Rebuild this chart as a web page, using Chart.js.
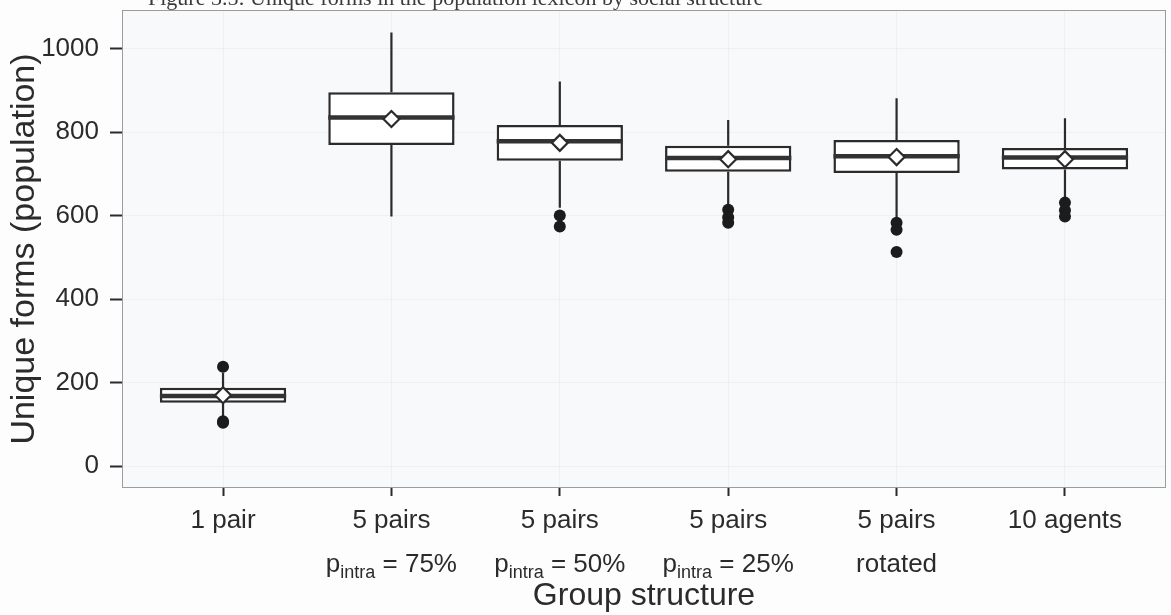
<!DOCTYPE html>
<html>
<head>
<meta charset="utf-8">
<title>Unique forms by group structure</title>
<script src="https://cdn.jsdelivr.net/npm/chart.js@4.4.1/dist/chart.umd.min.js"></script>
<style>
    html, body { margin: 0; padding: 0; background: #fdfdfd; }
    #wrap { width: 1171px; height: 615px; }
</style>
</head>
<body>
<div id="wrap"><canvas id="myChart" width="1171" height="615"></canvas></div>
<script>
// donnees (boxplot par structure de groupe)
const categories = ['1 pair', '5 pairs', '5 pairs', '5 pairs', '5 pairs', '10 agents'];
const subLabels = ['', 'p_intra = 75%', 'p_intra = 50%', 'p_intra = 25%', 'rotated', ''];
const whiskerLow = [116, 598, 619, 624, 595, 640];
const q1 = [152, 769, 731, 705, 702, 710];
const median = [168, 835, 778, 738, 742, 739];
const q3 = [188, 895, 817, 767, 781, 762];
const whiskerHigh = [224, 1038, 921, 829, 881, 833];
const means = [170, 831, 774, 735, 740, 735];
const outliers = [[238, 108, 104], [], [600, 574], [614, 596, 583], [583, 566, 513], [631, 613, 598]];
const yTicks = [0, 200, 400, 600, 800, 1000];
const figTitle = 'Figure 3.5: Unique forms in the population lexicon by social structure';

const ink = '#2b2b2b';
const boxWidth = 0.75;
const sans = '"Liberation Sans", Arial, sans-serif';

// jeux de donnees construits a partir des tableaux
const boxData = categories.map((c, i) => ({x: i, y: [q1[i], q3[i]]}));

const whiskerData = [];
categories.forEach((c, i) => {
    whiskerData.push({x: i, y: whiskerLow[i]}, {x: i, y: q1[i]}, {x: i, y: null});
    whiskerData.push({x: i, y: q3[i]}, {x: i, y: whiskerHigh[i]}, {x: i, y: null});
});

const medianData = [];
categories.forEach((c, i) => {
    medianData.push({x: i - boxWidth / 2, y: median[i]}, {x: i + boxWidth / 2, y: median[i]}, {x: i, y: null});
});

const meanData = means.map((m, i) => ({x: i, y: m}));

const outlierData = [];
outliers.forEach((list, i) => {
    list.forEach(v => outlierData.push({x: i, y: v}));
});

// fond du panneau + cadre
const panelPlugin = {
    id: 'panel',
    beforeDraw(chart) {
        const {ctx, chartArea: a} = chart;
        ctx.save();
        ctx.fillStyle = '#fdfdfd';
        ctx.fillRect(0, 0, chart.width, chart.height);
        ctx.fillStyle = '#f8f9fb';
        ctx.fillRect(a.left, a.top, a.right - a.left, a.bottom - a.top);
        ctx.restore();
    },
    beforeDatasetsDraw(chart) {
        const {ctx, chartArea: a} = chart;
        ctx.save();
        ctx.strokeStyle = '#9c9c9c';
        ctx.lineWidth = 1;
        ctx.strokeRect(a.left + 0.5, a.top + 0.5, a.right - a.left - 1, a.bottom - a.top - 1);
        ctx.restore();
    }
};

// deuxieme ligne des labels x (avec indice) + titre coupe en haut
const labelPlugin = {
    id: 'subLabels',
    afterDraw(chart) {
        const ctx = chart.ctx;
        const xs = chart.scales.x;
        const big = '26px ' + sans;
        const small = '18px ' + sans;
        ctx.save();
        ctx.fillStyle = ink;
        ctx.textBaseline = 'alphabetic';
        ctx.textAlign = 'left';
        subLabels.forEach((lab, i) => {
            if (!lab) return;
            const cx = xs.getPixelForValue(i);
            const y = 572;
            const m = lab.match(/^(\w)_(\w+)(.*)$/);
            if (m) {
                ctx.font = big;
                const w1 = ctx.measureText(m[1]).width;
                const w3 = ctx.measureText(m[3]).width;
                ctx.font = small;
                const w2 = ctx.measureText(m[2]).width;
                let x = cx - (w1 + w2 + w3) / 2;
                ctx.font = big;
                ctx.fillText(m[1], x, y);
                ctx.font = small;
                ctx.fillText(m[2], x + w1, y + 6);
                ctx.font = big;
                ctx.fillText(m[3], x + w1 + w2, y);
            } else {
                ctx.font = big;
                ctx.textAlign = 'center';
                ctx.fillText(lab, cx, y);
                ctx.textAlign = 'left';
            }
        });
        // titre de la figure, coupe par le bord du scan
        ctx.font = '22px "Liberation Serif", "Times New Roman", serif';
        ctx.fillStyle = '#3a3a3a';
        ctx.fillText(figTitle, 148, 5);
        ctx.restore();
    }
};

chartIt();
function chartIt() {
    const ctx = document.getElementById('myChart');
    const graphique = new Chart(ctx.getContext('2d'), {
        type: 'bar',
        data: {
            datasets: [{
                type: 'line',
                label: 'whiskers',
                data: whiskerData,
                borderColor: ink,
                borderWidth: 2.2,
                pointRadius: 0,
                spanGaps: false,
                order: 5
            }, {
                label: 'box',
                data: boxData,
                backgroundColor: '#ffffff',
                borderColor: ink,
                borderWidth: 2.5,
                borderSkipped: false,
                barPercentage: boxWidth,
                categoryPercentage: 1,
                order: 4
            }, {
                type: 'line',
                label: 'median',
                data: medianData,
                borderColor: '#333333',
                borderWidth: 4.5,
                pointRadius: 0,
                spanGaps: false,
                order: 3
            }, {
                type: 'line',
                label: 'mean',
                data: meanData,
                showLine: false,
                pointStyle: 'rectRot',
                pointRadius: 8,
                pointBackgroundColor: '#ffffff',
                pointBorderColor: ink,
                pointBorderWidth: 2.2,
                order: 2
            }, {
                type: 'line',
                label: 'outliers',
                data: outlierData,
                showLine: false,
                pointStyle: 'circle',
                pointRadius: 6,
                pointBackgroundColor: '#1c1c1c',
                pointBorderColor: '#1c1c1c',
                pointBorderWidth: 0,
                order: 1
            }]
        },
        options: {
            responsive: false,
            animation: false,
            // sinon chart.js rajoute de la marge pour les points
            layout: { autoPadding: false, padding: { top: 10, right: 5, left: 0, bottom: 0 } },
            plugins: {
                legend: { display: false },
                tooltip: { enabled: false }
            },
            scales: {
                x: {
                    type: 'linear',
                    offset: false,
                    min: -0.6,
                    max: 5.6,
                    afterBuildTicks: axis => { axis.ticks = categories.map((c, i) => ({value: i})); },
                    afterFit: axis => {
                        axis.height = 127;
                        axis.paddingLeft = 0;
                        axis.paddingRight = 0;
                    },
                    ticks: {
                        callback: v => categories[Math.round(v)],
                        color: ink,
                        font: { family: sans, size: 26 },
                        padding: 9,
                        maxRotation: 0,
                        autoSkip: false
                    },
                    grid: {
                        offset: false,
                        color: 'rgba(0,0,0,0.035)',
                        tickColor: ink,
                        tickWidth: 2,
                        tickLength: 8
                    },
                    border: { display: false },
                    title: {
                        display: true,
                        text: 'Group structure',
                        color: ink,
                        font: { family: sans, size: 32 },
                        padding: { top: 0, bottom: 0 }
                    }
                },
                y: {
                    min: -52,
                    max: 1092,
                    afterBuildTicks: axis => { axis.ticks = yTicks.map(v => ({value: v})); },
                    afterFit: axis => {
                        axis.width = 122;
                        axis.paddingTop = 0;
                        axis.paddingBottom = 0;
                    },
                    ticks: {
                        callback: v => String(v),
                        color: ink,
                        font: { family: sans, size: 26 },
                        padding: 11
                    },
                    grid: {
                        color: 'rgba(0,0,0,0.035)',
                        tickColor: ink,
                        tickWidth: 2,
                        tickLength: 12
                    },
                    border: { display: false },
                    title: {
                        display: true,
                        text: 'Unique forms (population)',
                        color: ink,
                        font: { family: sans, size: 34 },
                        padding: { top: 4, bottom: 0 }
                    }
                }
            }
        },
        plugins: [panelPlugin, labelPlugin]
    });
}
</script>
</body>
</html>
